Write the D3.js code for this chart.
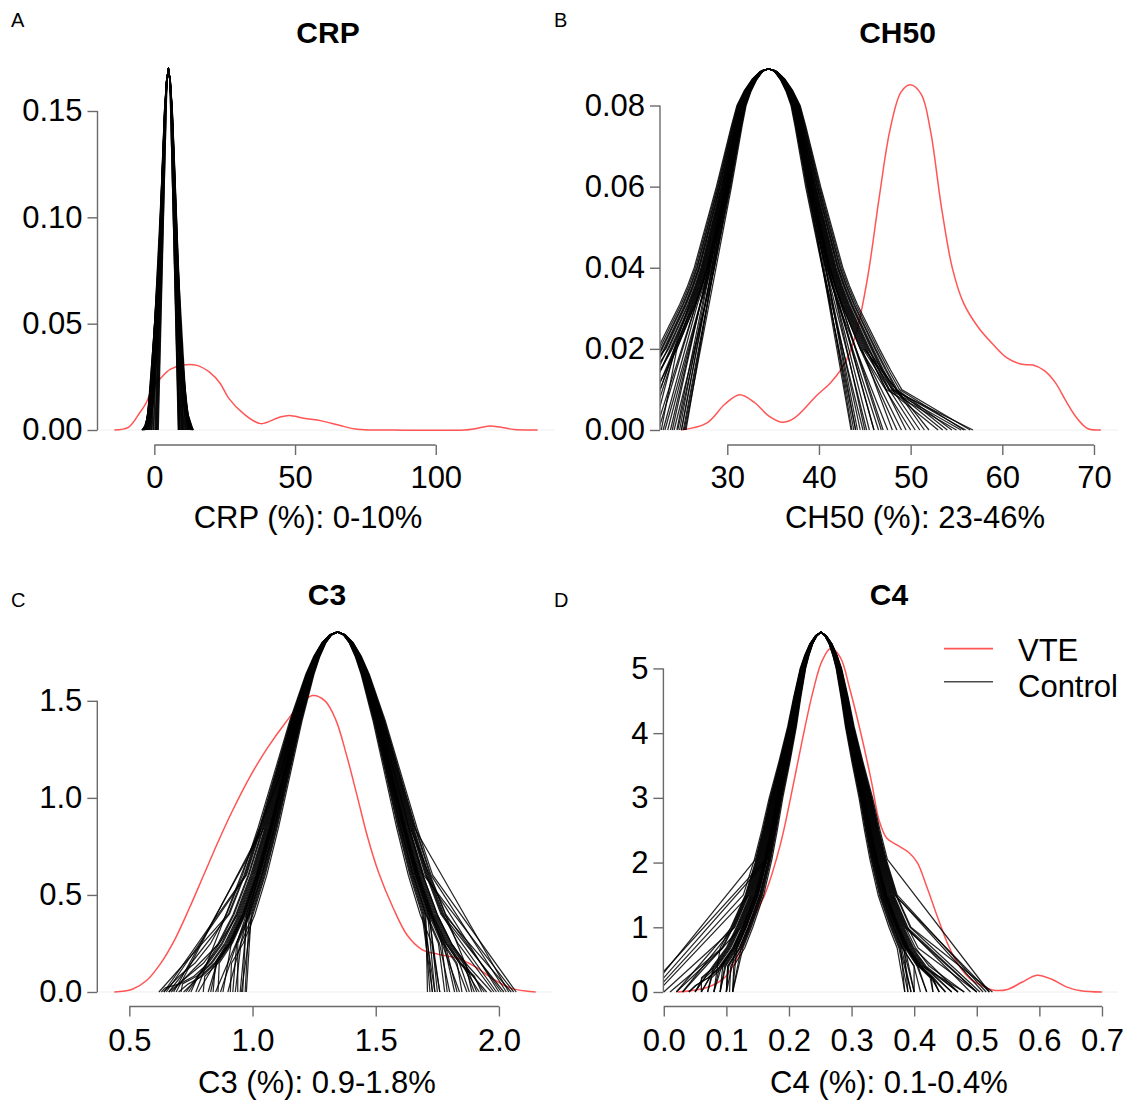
<!DOCTYPE html>
<html>
<head>
<meta charset="utf-8">
<script src="https://cdn.jsdelivr.net/npm/d3@7"></script>
<style>
  body { margin: 0; background: #fff; }
  svg { display: block; }
</style>
</head>
<body>
<svg id="chart" width="1135" height="1105"></svg>
<script>
// ---------------- DATA ----------------
// Panel A: CRP
const crpXTicks = [0, 50, 100];
const crpYTicks = [0, 0.05, 0.10, 0.15];
const crpVteX = [-14.2, -9.1, -5.3, -3.0, -0.4, 2.0, 5.6, 10.3, 15.1, 19.8, 23.3, 26.4, 31.5, 37.8, 44.2, 48.0, 53.1, 59.4, 65.7, 72.1, 84.8, 110.2, 114.0, 119.1, 122.8, 127.9, 136.2];
const crpVteY = [0.0000, 0.0014, 0.0079, 0.0125, 0.0204, 0.0240, 0.0285, 0.0306, 0.0304, 0.0270, 0.0221, 0.0150, 0.0079, 0.0030, 0.0059, 0.0068, 0.0055, 0.0043, 0.0022, 0.0003, 0.0000, 0.0000, 0.0006, 0.0019, 0.0014, 0.0002, 0.0000];
const crpCtrlCenter = 5.0;
const crpCtrlShapeD = [0, 0.6, 1.18, 1.75, 2.35, 2.95, 3.53, 4.1, 4.7, 5.3, 5.88, 7.05, 8.2];
const crpCtrlShapeY = [0.170, 0.164, 0.150, 0.128, 0.103, 0.078, 0.055, 0.037, 0.023, 0.0135, 0.0075, 0.0019, 0.0004];
const crpCtrlWidth = [1.00, 0.90, 1.10, 0.95, 1.20, 0.85, 1.05, 0.97, 1.15, 0.88, 1.02, 0.92, 1.12, 0.98, 1.01, 0.93, 1.18, 0.96, 1.06, 0.89, 1.08, 0.94, 1.03, 0.99,
                      0.87, 1.13, 0.91, 1.07, 0.95, 1.16, 0.84, 1.09, 0.97, 1.04, 0.90, 1.11];
const crpCtrlLo = [-3.9, -2.6, -4.5, -1.8, -4.2, -0.8, -3.0, 1.0, -3.6, 0.2, -2.2, 1.4, -4.0, -1.2, -3.3, 0.6, -4.4, -2.0, -3.5, -0.4, -2.8, -1.5, -3.1, -2.4,
                   -1.0, -3.8, 0.4, -2.9, -0.2, -4.3, 1.2, -3.4, -1.6, -2.5, 0.8, -3.7];
const crpCtrlCutL = [0, 0.10, 0, 0.13, 0, 0.15, 0.05, 0.16, 0, 0.14, 0.08, 0.16, 0, 0.12, 0.03, 0.15, 0, 0.11, 0.02, 0.14, 0.06, 0.12, 0, 0.09,
                     0.13, 0, 0.15, 0.04, 0.14, 0, 0.16, 0.02, 0.12, 0.07, 0.15, 0];
const crpCtrlHi = [13.2, 11.0, 13.9, 9.8, 12.6, 8.8, 12.0, 8.5, 13.6, 9.2, 11.6, 8.6, 13.0, 10.0, 12.3, 9.5, 13.8, 10.8, 12.8, 9.0, 11.4, 10.2, 12.1, 11.8,
                   10.5, 13.4, 9.0, 12.2, 9.6, 13.7, 8.7, 12.9, 10.3, 11.2, 8.9, 13.1];
const crpCtrlCutR = [0, 0.09, 0, 0.13, 0.02, 0.15, 0.05, 0.16, 0, 0.14, 0.07, 0.16, 0, 0.12, 0.04, 0.15, 0, 0.10, 0.02, 0.14, 0.06, 0.12, 0.03, 0.08,
                     0.12, 0, 0.15, 0.03, 0.14, 0, 0.16, 0.02, 0.11, 0.06, 0.15, 0];

// Panel B: CH50
const ch50XTicks = [30, 40, 50, 60, 70];
const ch50YTicks = [0, 0.02, 0.04, 0.06, 0.08];
const ch50VteX = [24.95, 27.75, 29.75, 31.35, 32.96, 34.55, 35.96, 37.35, 39.75, 41.36, 42.95, 44.15, 45.35, 46.55, 47.75, 48.95, 49.95, 51.15, 52.15, 53.35, 54.55, 55.75, 57.35, 58.95, 60.55, 62.15, 63.35, 64.55, 65.75, 66.95, 68.15, 69.35, 70.75];
const ch50VteY = [0, 0.0017, 0.0064, 0.0087, 0.0068, 0.0034, 0.0019, 0.0030, 0.0085, 0.0119, 0.0170, 0.0247, 0.0382, 0.0570, 0.0740, 0.0833, 0.0851, 0.0828, 0.0740, 0.0551, 0.0399, 0.0314, 0.0254, 0.0212, 0.0177, 0.0162, 0.0160, 0.0147, 0.0118, 0.0071, 0.0029, 0.0003, 0];
const ch50CtrlCenter = 34.5;
const ch50CtrlShapeD = [0, 0.4, 0.8, 1.5, 2.2, 2.85, 3.35, 3.8, 4.25, 4.7, 5.2, 5.7, 6.2, 6.7, 7.3, 8.0, 9.0, 10.0, 11.0, 12.0, 13.5];
const ch50CtrlShapeY = [0.089, 0.0888, 0.0883, 0.0864, 0.0836, 0.080, 0.075, 0.070, 0.065, 0.060, 0.055, 0.050, 0.045, 0.040, 0.0355, 0.031, 0.0255, 0.020, 0.0148, 0.010, 0.004];
const ch50CtrlWidth = [1.00, 0.93, 1.07, 0.96, 1.12, 0.90, 1.04, 0.98, 1.16, 0.92, 1.02, 0.95, 1.09, 0.97, 1.01, 0.94, 1.14, 0.99, 1.05, 0.91, 1.10, 0.97, 1.03, 1.00,
                       0.88, 1.19, 0.93, 1.13, 0.86, 1.08, 0.95, 1.21, 0.90, 1.06, 0.99, 1.17];
const ch50CtrlLo = [20, 23.5, 17, 24.5, 15, 25.2, 21, 24, 16, 25.5, 22, 24.8, 18, 23, 21.5, 25, 14.5, 22.5, 19, 25.3, 17.5, 23.8, 20.5, 22.8,
                    24.2, 16.5, 25.0, 18.5, 25.4, 21.2, 23.2, 14.8, 24.6, 19.5, 22.2, 15.8];
const ch50CtrlCutL = [0.020, 0.031, 0.010, 0.040, 0.020, 0.050, 0.031, 0.040, 0.010, 0.050, 0.020, 0.040, 0.020, 0.031, 0.020, 0.050, 0.010, 0.031, 0.020, 0.060, 0.010, 0.040, 0.031, 0.020,
                      0.040, 0.010, 0.050, 0.020, 0.060, 0.031, 0.040, 0.010, 0.050, 0.020, 0.031, 0.010];
const ch50CtrlHi = [50, 44, 55, 46, 56.8, 43.5, 52, 45, 54, 44.5, 48, 46.5, 53, 45.5, 49, 44.2, 56, 47, 51, 43.8, 55.5, 46, 50.5, 48.5,
                    44.8, 55.8, 43.6, 53.5, 44.0, 51.5, 47.5, 56.5, 45.2, 49.5, 46.8, 54.5];
const ch50CtrlCutR = [0.020, 0.040, 0.010, 0.031, 0.010, 0.050, 0.020, 0.040, 0.010, 0.050, 0.020, 0.031, 0.010, 0.040, 0.020, 0.050, 0.010, 0.031, 0.020, 0.060, 0.010, 0.031, 0.020, 0.020,
                      0.040, 0.010, 0.050, 0.010, 0.060, 0.020, 0.031, 0.010, 0.050, 0.020, 0.031, 0.010];

// Panel C: C3
const c3XTicks = [0.5, 1.0, 1.5, 2.0];
const c3YTicks = [0, 0.5, 1.0, 1.5];
const c3VteX = [0.439, 0.512, 0.570, 0.628, 0.686, 0.743, 0.801, 0.859, 0.917, 0.990, 1.062, 1.135, 1.193, 1.243, 1.294, 1.338, 1.381, 1.425, 1.468, 1.512, 1.570, 1.628, 1.686, 1.758, 1.830, 1.903, 1.975, 2.048, 2.149];
const c3VteY = [0, 0.014, 0.059, 0.149, 0.274, 0.430, 0.600, 0.770, 0.930, 1.110, 1.260, 1.390, 1.480, 1.527, 1.500, 1.402, 1.223, 1.008, 0.793, 0.614, 0.435, 0.292, 0.220, 0.193, 0.175, 0.131, 0.068, 0.020, 0];
const c3CtrlCenter = 1.345;
const c3CtrlShapeD = [0, 0.0275, 0.055, 0.0825, 0.11, 0.165, 0.22, 0.275, 0.33, 0.385, 0.44, 0.495, 0.55, 0.605, 0.66, 0.77];
const c3CtrlShapeY = [1.855, 1.840, 1.798, 1.729, 1.637, 1.400, 1.125, 0.849, 0.602, 0.401, 0.251, 0.148, 0.081, 0.042, 0.021, 0.004];
const c3CtrlWidth = [1.00, 0.94, 1.06, 0.97, 1.10, 0.91, 1.03, 0.98, 1.13, 0.95, 1.02, 0.93, 1.08, 0.99, 1.01, 0.96, 1.12, 0.97, 1.05, 0.92, 1.09, 0.98, 1.04, 1.00,
                     0.89, 1.15, 0.93, 1.11, 0.87, 1.07, 0.96, 1.17, 0.90, 1.05, 0.99, 1.14];
const c3CtrlLo = [0.70, 0.85, 0.63, 0.90, 0.66, 0.975, 0.75, 0.88, 0.64, 0.95, 0.78, 0.92, 0.68, 0.82, 0.72, 0.96, 0.65, 0.86, 0.74, 0.94, 0.67, 0.80, 0.71, 0.84,
                  0.93, 0.62, 0.97, 0.69, 0.91, 0.73, 0.87, 0.64, 0.955, 0.77, 0.83, 0.66];
const c3CtrlCutL = [0, 0.3, 0, 0.5, 0.1, 0, 0, 0.25, 0.6, 0, 0.2, 0, 0.8, 0, 0.1, 0, 0.5, 0, 0.3, 0, 0.2, 0, 0, 0.1,
                    0, 0.4, 0, 0.7, 0, 0.2, 0.4, 0, 0, 0.9, 0, 0.3];
const c3CtrlHi = [1.95, 1.80, 2.06, 1.75, 2.02, 1.72, 1.90, 1.85, 2.04, 1.74, 1.92, 1.78, 2.00, 1.83, 1.93, 1.76, 2.05, 1.87, 1.97, 1.73, 1.99, 1.82, 1.94, 1.88,
                  1.73, 2.03, 1.71, 1.98, 1.76, 1.91, 1.79, 2.07, 1.74, 1.89, 1.84, 2.01];
const c3CtrlCutR = [0, 0.2, 0.6, 0, 0.3, 0, 0.1, 0, 0.7, 0, 0.25, 0, 0.5, 0, 0, 0.2, 0.4, 0, 0.1, 0, 0.3, 0, 0.2, 0,
                    0, 0.5, 0, 0.2, 0, 0.8, 0, 0.6, 0, 0.1, 0.3, 0.4];

// Panel D: C4
const c4XTicks = [0, 0.1, 0.2, 0.3, 0.4, 0.5, 0.6, 0.7];
const c4YTicks = [0, 1, 2, 3, 4, 5];
const c4VteX = [0.022, 0.069, 0.098, 0.121, 0.139, 0.162, 0.186, 0.203, 0.221, 0.238, 0.253, 0.267, 0.282, 0.297, 0.315, 0.332, 0.344, 0.356, 0.373, 0.391, 0.405, 0.420, 0.438, 0.455, 0.473, 0.490, 0.508, 0.525, 0.549, 0.572, 0.596, 0.619, 0.643, 0.666, 0.700];
const c4VteY = [0, 0.07, 0.23, 0.61, 1.06, 1.52, 2.27, 3.02, 3.88, 4.63, 5.12, 5.31, 5.17, 4.69, 3.99, 3.24, 2.65, 2.38, 2.27, 2.16, 2.00, 1.63, 1.14, 0.71, 0.39, 0.20, 0.10, 0.03, 0.04, 0.15, 0.26, 0.20, 0.08, 0.02, 0];
const c4CtrlCenter = 0.251;
const c4CtrlShapeD = [0, 0.007, 0.015, 0.022, 0.028, 0.037, 0.045, 0.057, 0.07, 0.08, 0.09, 0.105, 0.125, 0.14, 0.16, 0.18, 0.2, 0.24];
const c4CtrlShapeY = [5.56, 5.51, 5.38, 5.2, 5.0, 4.55, 4.1, 3.55, 3.0, 2.5, 2.05, 1.5, 1.0, 0.68, 0.4, 0.22, 0.1, 0.0];
const c4CtrlWidth = [1.00, 0.94, 1.07, 0.97, 1.12, 0.91, 1.03, 0.98, 1.15, 0.95, 1.02, 0.93, 1.09, 0.99, 1.01, 0.96, 1.13, 0.97, 1.05, 0.92, 1.10, 0.98, 1.04, 1.00,
                     0.89, 1.16, 0.93, 1.11, 0.87, 1.08, 0.96, 1.18, 0.90, 1.06, 0.99, 1.14];
const c4CtrlLo = [0.04, -0.02, 0.07, 0.10, 0.02, 0.11, 0.05, -0.03, 0.08, 0.09, 0.03, 0.10, -0.01, 0.06, 0.08, 0.11, 0.01, 0.07, 0.05, 0.10, 0.00, 0.09, 0.06, 0.04,
                  0.11, -0.025, 0.10, 0.03, 0.11, 0.05, 0.09, -0.015, 0.105, 0.06, 0.08, 0.02];
const c4CtrlCutL = [0, 1.7, 0, 0, 0.6, 0, 0, 2.0, 0, 0.3, 1.0, 0, 1.2, 0, 0, 0, 0.5, 0, 0, 0, 0.9, 0, 0.3, 0,
                    0, 1.8, 0, 0.7, 0, 0.4, 0, 1.5, 0, 0.2, 0, 1.0];
const c4CtrlHi = [0.45, 0.40, 0.50, 0.42, 0.52, 0.385, 0.47, 0.43, 0.525, 0.39, 0.46, 0.41, 0.49, 0.44, 0.48, 0.40, 0.51, 0.43, 0.47, 0.395, 0.50, 0.44, 0.46, 0.45,
                  0.39, 0.515, 0.40, 0.50, 0.385, 0.48, 0.42, 0.52, 0.395, 0.47, 0.44, 0.505];
const c4CtrlCutR = [0.4, 0, 1.0, 0, 1.5, 0, 0.4, 0, 1.0, 0, 0.4, 0, 1.0, 0, 0.4, 0, 1.5, 0, 0.4, 0, 1.0, 0, 0.4, 0,
                    0, 1.2, 0, 0.6, 0, 0.3, 0, 1.8, 0, 0.5, 0, 1.0];

const legendLabels = ["VTE", "Control"];

// ---------------- LAYOUT / STYLE ----------------
const FONT = '"Liberation Sans", Arial, Helvetica, sans-serif';
const RED = "#ff5555";
const AXIS = "#6a6a6a";

const panels = [
  { id: "A", letter: "A", title: "CRP", xlab: "CRP (%): 0-10%",
    letterPos: [11, 27], titlePos: [328, 43], xlabPos: [308, 528],
    left: 97.5, right: 554.5, top: 54, bottom: 445,
    xlim: [-20.2, 142.2], ylim: [-0.00705, 0.1768],
    xTicks: crpXTicks, yTicks: crpYTicks, xFmt: "d", yFmt: ".2f", xPad: 11,
    vteX: crpVteX, vteY: crpVteY,
    ctrl: { center: crpCtrlCenter, shapeD: crpCtrlShapeD, shapeY: crpCtrlShapeY, width: crpCtrlWidth,
            lo: crpCtrlLo, hi: crpCtrlHi, cutL: crpCtrlCutL, cutR: crpCtrlCutR } },
  { id: "B", letter: "B", title: "CH50", xlab: "CH50 (%): 23-46%",
    letterPos: [554, 27], titlePos: [897.5, 43], xlabPos: [915, 528],
    left: 660, right: 1118, top: 54, bottom: 445,
    xlim: [22.66, 72.62], ylim: [-0.0037, 0.0927],
    xTicks: ch50XTicks, yTicks: ch50YTicks, xFmt: "d", yFmt: ".2f", xPad: 11,
    vteX: ch50VteX, vteY: ch50VteY,
    ctrl: { center: ch50CtrlCenter, shapeD: ch50CtrlShapeD, shapeY: ch50CtrlShapeY, width: ch50CtrlWidth,
            lo: ch50CtrlLo, hi: ch50CtrlHi, cutL: ch50CtrlCutL, cutR: ch50CtrlCutR } },
  { id: "C", letter: "C", title: "C3", xlab: "C3 (%): 0.9-1.8%",
    letterPos: [11, 607], titlePos: [327, 605], xlabPos: [317, 1093],
    left: 97.3, right: 552.4, top: 616, bottom: 1006.5,
    xlim: [0.370, 2.217], ylim: [-0.0747, 1.937],
    xTicks: c3XTicks, yTicks: c3YTicks, xFmt: ".1f", yFmt: ".1f", xPad: 12,
    vteX: c3VteX, vteY: c3VteY,
    ctrl: { center: c3CtrlCenter, shapeD: c3CtrlShapeD, shapeY: c3CtrlShapeY, width: c3CtrlWidth,
            lo: c3CtrlLo, hi: c3CtrlHi, cutL: c3CtrlCutL, cutR: c3CtrlCutR } },
  { id: "D", letter: "D", title: "C4", xlab: "C4 (%): 0.1-0.4%",
    letterPos: [554, 607], titlePos: [889, 605], xlabPos: [889, 1093],
    left: 663.4, right: 1118, top: 616, bottom: 1006.5,
    xlim: [-0.0006, 0.7256], ylim: [-0.224, 5.81],
    xTicks: c4XTicks, yTicks: c4YTicks, xFmt: ".1f", yFmt: "d", xPad: 12,
    vteX: c4VteX, vteY: c4VteY,
    ctrl: { center: c4CtrlCenter, shapeD: c4CtrlShapeD, shapeY: c4CtrlShapeY, width: c4CtrlWidth,
            lo: c4CtrlLo, hi: c4CtrlHi, cutL: c4CtrlCutL, cutR: c4CtrlCutR },
    legend: { x1: 944, x2: 993, textX: 1018, rows: [648.6, 681.7], baselines: [661, 697] } }
];

// Build the control curves from the read shape, each with its own width and end points
function buildControlCurves(c) {
  return c.width.map((k, i) => {
    const pts = [[c.lo[i], 0]];
    for (let j = c.shapeD.length - 1; j >= 1; j--) {
      const xx = c.center - c.shapeD[j] * k;
      if (xx > c.lo[i] && c.shapeY[j] >= c.cutL[i]) pts.push([xx, c.shapeY[j]]);
    }
    pts.push([c.center, c.shapeY[0]]);
    for (let j = 1; j < c.shapeD.length; j++) {
      const xx = c.center + c.shapeD[j] * k;
      if (xx < c.hi[i] && c.shapeY[j] >= c.cutR[i]) pts.push([xx, c.shapeY[j]]);
    }
    pts.push([c.hi[i], 0]);
    return pts;
  });
}

const svg = d3.select("#chart");
svg.append("rect").attr("width", 1135).attr("height", 1105).attr("fill", "#fff");
const defs = svg.append("defs");

panels.forEach(cfg => {
  const x = d3.scaleLinear().domain(cfg.xlim).range([cfg.left, cfg.right]);
  const y = d3.scaleLinear().domain(cfg.ylim).range([cfg.bottom, cfg.top]);
  const g = svg.append("g").attr("class", "panel-" + cfg.id);

  defs.append("clipPath").attr("id", "clip" + cfg.id)
    .append("rect")
    .attr("x", cfg.left).attr("y", cfg.top - 40)
    .attr("width", cfg.right - cfg.left).attr("height", cfg.bottom - cfg.top + 40);

  // faint zero line
  g.append("line")
    .attr("x1", cfg.left).attr("x2", cfg.right)
    .attr("y1", y(0)).attr("y2", y(0))
    .attr("stroke", "#eeeeee").attr("stroke-width", 1);

  const plot = g.append("g").attr("clip-path", "url(#clip" + cfg.id + ")");

  // VTE density (red)
  const smooth = d3.line().x(d => x(d[0])).y(d => y(d[1])).curve(d3.curveCatmullRom.alpha(0.5));
  plot.append("path")
    .datum(d3.zip(cfg.vteX, cfg.vteY))
    .attr("d", smooth)
    .attr("fill", "none").attr("stroke", RED).attr("stroke-width", 1.5);

  // Control curves (black)
  const lin = d3.line().x(d => x(d[0])).y(d => y(d[1]));
  plot.selectAll("path.ctrl")
    .data(buildControlCurves(cfg.ctrl))
    .join("path")
    .attr("class", "ctrl")
    .attr("d", lin)
    .attr("fill", "none")
    .attr("stroke", "#000")
    .attr("stroke-opacity", 0.85)
    .attr("stroke-width", 1.25)
    .attr("stroke-linejoin", "round");

  // Y axis
  const ya = d3.axisLeft(y).tickValues(cfg.yTicks).tickFormat(d3.format(cfg.yFmt)).tickSize(10).tickPadding(5);
  const gy = g.append("g").attr("transform", `translate(${cfg.left},0)`).call(ya);
  gy.select(".domain").remove();
  gy.selectAll(".tick line").attr("stroke", AXIS).attr("stroke-width", 1.4);
  gy.selectAll(".tick text").attr("font-size", 31).attr("font-family", FONT).attr("fill", "#000");
  gy.append("line")
    .attr("x1", 0).attr("x2", 0)
    .attr("y1", y(cfg.yTicks[0])).attr("y2", y(cfg.yTicks[cfg.yTicks.length - 1]))
    .attr("stroke", AXIS).attr("stroke-width", 1.4);

  // X axis
  const xa = d3.axisBottom(x).tickValues(cfg.xTicks).tickFormat(d3.format(cfg.xFmt)).tickSize(10).tickPadding(cfg.xPad);
  const gx = g.append("g").attr("transform", `translate(0,${cfg.bottom})`).call(xa);
  gx.select(".domain").remove();
  gx.selectAll(".tick line").attr("stroke", AXIS).attr("stroke-width", 1.4);
  gx.selectAll(".tick text").attr("font-size", 31).attr("font-family", FONT).attr("fill", "#000");
  gx.append("line")
    .attr("y1", 0).attr("y2", 0)
    .attr("x1", x(cfg.xTicks[0])).attr("x2", x(cfg.xTicks[cfg.xTicks.length - 1]))
    .attr("stroke", AXIS).attr("stroke-width", 1.4);

  // Texts
  g.append("text").text(cfg.letter)
    .attr("x", cfg.letterPos[0]).attr("y", cfg.letterPos[1])
    .attr("font-family", FONT).attr("font-size", 20).attr("fill", "#000");
  g.append("text").text(cfg.title)
    .attr("x", cfg.titlePos[0]).attr("y", cfg.titlePos[1])
    .attr("text-anchor", "middle").attr("font-weight", "bold")
    .attr("font-family", FONT).attr("font-size", 30).attr("fill", "#000");
  g.append("text").text(cfg.xlab)
    .attr("x", cfg.xlabPos[0]).attr("y", cfg.xlabPos[1])
    .attr("text-anchor", "middle")
    .attr("font-family", FONT).attr("font-size", 31).attr("fill", "#000");

  if (cfg.legend) {
    const L = cfg.legend;
    const colors = [RED, "#4a4a4a"];
    legendLabels.forEach((lab, i) => {
      g.append("line")
        .attr("x1", L.x1).attr("x2", L.x2)
        .attr("y1", L.rows[i]).attr("y2", L.rows[i])
        .attr("stroke", colors[i]).attr("stroke-width", 1.6);
      g.append("text").text(lab)
        .attr("x", L.textX).attr("y", L.baselines[i])
        .attr("font-family", FONT).attr("font-size", 31).attr("fill", "#000");
    });
  }
});
</script>
</body>
</html>
